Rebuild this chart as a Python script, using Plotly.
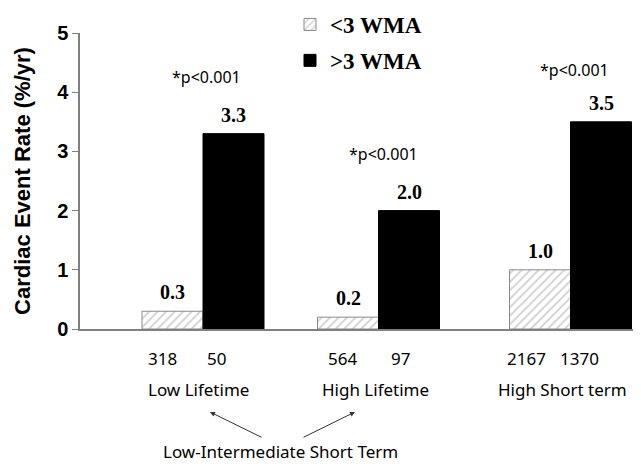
import plotly.graph_objects as go

groups = ["Low Lifetime", "High Lifetime", "High Short term"]
low_wma = [0.3, 0.2, 1.0]
high_wma = [3.3, 2.0, 3.5]
n_low = ["318", "564", "2167"]
n_high = ["50", "97", "1370"]
pvals = ["*p<0.001", "*p<0.001", "*p<0.001"]
yticks = [0, 1, 2, 3, 4, 5]

# page has an 8px body margin; plot area spans page x 80..641, y 33..329
PX = 61.0
def xu(px):
    return (px - 80) / PX
def pp(py):
    return (329 - py) / 296.0
def px_paper(px):
    return (px - 80) / 561.0

centers = [xu(203), xu(378.5), xu(570.5)]
bw = 1.0

fig = go.Figure()
fig.add_trace(go.Bar(
    x=[c - bw / 2 for c in centers], y=low_wma, width=bw, name="<b>&lt;3 WMA</b>",
    legendgroup="a",
    marker=dict(color="white", line=dict(color="#8a8a8a", width=1),
                pattern=dict(shape="/", fgcolor="#a0a0a0", bgcolor="white", size=6, solidity=0.3)),
))
fig.add_trace(go.Bar(
    x=[c + bw / 2 for c in centers], y=high_wma, width=bw, name="<b>&gt;3 WMA</b>",
    legendgroup="b",
    marker=dict(color="black", line=dict(color="black", width=1)),
))

ann = []
vfont = dict(family="Liberation Serif", size=20, color="black", weight="bold")
nfont = dict(family="Noto Sans", size=17, color="black")
for i, c in enumerate(centers):
    ann.append(dict(x=c - bw / 2, y=low_wma[i], text=f"{low_wma[i]:.1f}", showarrow=False,
                    yanchor="bottom", yshift=6, font=vfont))
    ann.append(dict(x=c + bw / 2, y=high_wma[i], text=f"{high_wma[i]:.1f}", showarrow=False,
                    yanchor="bottom", yshift=6, font=vfont))

count_px = [(162, 216), (342, 400), (526, 579)]
group_px = [198, 375, 562]
pval_pos = [(206, 77), (383, 154), (574, 70)]
common = dict(yref="paper", showarrow=False, xanchor="center", yanchor="middle")
for i in range(3):
    ann.append(dict(x=xu(count_px[i][0]), y=pp(358), text=n_low[i], font=nfont, **common))
    ann.append(dict(x=xu(count_px[i][1]), y=pp(358), text=n_high[i], font=nfont, **common))
    ann.append(dict(x=xu(group_px[i]), y=pp(389), text=groups[i], font=nfont, **common))
    ann.append(dict(x=xu(pval_pos[i][0]), y=pp(pval_pos[i][1]), text=pvals[i],
                    font=dict(family="Noto Sans", size=16, color="black"), **common))

ann.append(dict(x=xu(280), y=pp(451), text="Low-Intermediate Short Term", font=nfont, **common))
ann.append(dict(x=xu(210), y=pp(412), yref="paper", ax=53, ay=26, text="", showarrow=True,
                arrowhead=2, arrowsize=1, arrowwidth=1, arrowcolor="#333"))
ann.append(dict(x=xu(355), y=pp(412), yref="paper", ax=-53, ay=26, text="", showarrow=True,
                arrowhead=2, arrowsize=1, arrowwidth=1, arrowcolor="#333"))

fig.update_layout(
    width=633, height=459,
    margin=dict(l=72, r=0, t=25, b=138, autoexpand=False),
    plot_bgcolor="white", paper_bgcolor="white",
    barmode="overlay",
    showlegend=True,
    legend=dict(x=px_paper(290), y=pp(3),
                xanchor="left", yanchor="top",
                font=dict(family="Liberation Serif", size=23, color="black"),
                bgcolor="rgba(0,0,0,0)", tracegroupgap=3, traceorder="grouped"),
    annotations=ann,
    xaxis=dict(range=[0, 561 / PX], showticklabels=False, ticks="", showgrid=False,
               zeroline=False, showline=True, linecolor="#808080", linewidth=1.5, fixedrange=True),
    yaxis=dict(range=[0, 5], tickvals=yticks, ticks="outside", ticklen=6, tickcolor="#808080",
               showgrid=False, zeroline=False, showline=True, linecolor="#808080", linewidth=1.5,
               tickfont=dict(family="Liberation Sans", size=20, color="black", weight="bold"),
               title=dict(text="Cardiac Event Rate (%/yr)", standoff=20,
                          font=dict(family="Liberation Sans", size=22, color="black",
                                    weight="bold"))),
)
fig.write_html("out.html")
